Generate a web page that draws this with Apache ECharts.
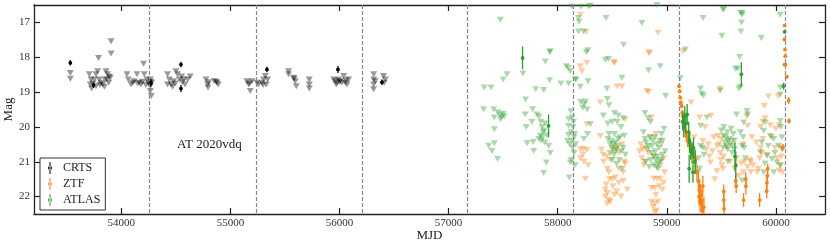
<!DOCTYPE html>
<html><head><meta charset="utf-8">
<script src="https://cdn.jsdelivr.net/npm/echarts@6/dist/echarts.min.js"></script>
<style>html,body{margin:0;padding:0;background:#fff}#c{width:830px;height:248px}</style>
</head><body><div id="c"></div>
<script>
// ---- data: [MJD, mag] (limits) and [MJD, mag, err] (detections) ----
const xTicks = [54000, 55000, 56000, 57000, 58000, 59000, 60000];
const yTicks = [17, 18, 19, 20, 21, 22];
const periodLines = [54259, 55235, 56206, 57174, 58143, 59114, 60086];

const crtsDet = [[53533,18.16,0.08],[53746,18.80,0.08],[54547,18.21,0.08],[54547,18.90,0.1],[55335,18.35,0.08],[55986,18.35,0.1],[56389,18.72,0.08],[54272,18.74,0.1]];
const crtsLim = [
[53533,18.45],[53533,18.62],
[53707,18.49],[53722,18.64],[53715,18.78],[53728,18.90],[53753,18.64],[53768,18.49],[53783,18.40],[53798,18.64],[53814,18.73],[53830,18.78],[53851,18.64],[53860,18.40],[53874,18.49],[53870,18.64],[53885,18.73],[53899,18.59],[53792,18.02],[53906,17.54],[53906,17.89],[53768,18.83],[53845,18.85],[53740,18.75],[53805,18.80],[53890,18.55],
[54052,18.49],[54064,18.64],[54089,18.78],[54104,18.73],[54119,18.69],[54144,18.49],[54165,18.73],[54181,18.78],[54204,18.19],[54211,18.49],[54236,18.64],[54248,18.73],[54266,18.64],[54266,18.83],[54266,18.97],[54275,19.11],[54278,18.73],[54150,18.75],[54195,18.70],[54225,18.80],[54258,18.78],[54270,18.70],
[54424,18.49],[54440,18.64],[54456,18.78],[54479,18.69],[54502,18.40],[54516,18.49],[54532,18.64],[54553,18.55],[54571,18.64],[54584,18.78],[54608,18.64],[54632,18.55],[54470,18.85],[54424,18.78],[54495,18.75],[54560,18.72],
[54776,18.64],[54791,18.78],[54795,18.87],[54852,18.69],[54877,18.73],[54889,18.78],[54800,18.72],[54870,18.70],
[55152,18.69],[55167,18.78],[55182,18.97],[55198,18.69],[55244,18.73],[55259,18.78],[55290,18.73],[55304,18.64],[55320,18.54],[55329,18.78],[55341,18.64],[55300,18.80],[55175,18.75],
[55533,18.40],[55533,18.49],[55579,18.59],[55595,18.69],[55604,18.83],[55723,18.64],[55723,18.78],[55723,18.90],[55585,18.62],
[55946,18.64],[55962,18.69],[55977,18.73],[55992,18.64],[56007,18.69],[56038,18.54],[56053,18.73],[56069,18.78],[56084,18.64],[55970,18.78],[56023,18.73],[56000,18.70],[56060,18.66],
[56313,18.49],[56313,18.64],[56313,18.78],[56313,18.92],[56328,18.69],[56404,18.54],[56420,18.64],[56410,18.73]];

const ztfDet = [
[59112,18.83,0.05],[59118,18.98,0.05],[59124,19.16,0.06],[59130,19.30,0.06],[59136,19.40,0.07],[59142,19.59,0.08],[59148,19.69,0.1],[59154,19.87,0.12],[59160,19.97,0.1],[59170,20.11,0.15],[59178,20.26,0.15],[59191,20.40,0.18],[59209,20.54,0.2],[59231,20.69,0.2],[59246,20.83,0.2],[59261,20.92,0.25],[59276,21.30,0.25],[59290,21.56,0.3],[59300,21.80,0.3],[59310,21.95,0.3],[59320,22.10,0.3],[59305,22.15,0.3],[59330,21.70,0.3],[59340,22.30,0.3],[59295,22.00,0.25],[59325,22.40,0.3],
[59522,21.85,0.2],[59522,22.10,0.2],[59525,22.35,0.2],[59632,21.55,0.2],[59636,21.70,0.2],[59704,22.10,0.2],[59723,21.50,0.2],[59725,21.70,0.25],[59851,22.10,0.2],[59915,21.85,0.2],[59918,21.60,0.25],[59922,21.40,0.2],[59925,21.20,0.15],[60064,20.59,0.1],
[60080,17.09,0.03],[60078,17.49,0.03],[60083,17.78,0.03],[60086,17.97,0.03],[60088,18.21,0.03],[60078,18.21,0.03],[60100,18.56,0.05],[60117,19.24,0.1],[60120,19.83,0.08]];
const ztfLim = [
[58207,16.78],[58259,17.27],[58268,18.16],[58207,18.26],[58222,18.40],[58268,19.92],[58207,20.64],[58237,20.64],[58268,20.66],[58210,20.90],[58240,21.00],[58280,21.10],[58253,21.49],[58230,20.80],
[58522,18.16],[58514,18.14],[58543,18.84],[58589,18.84],[58390,19.30],[58620,19.78],[58390,20.26],[58418,20.80],[58450,20.85],[58482,20.95],[58455,21.20],[58470,21.30],[58475,21.50],[58500,21.50],[58436,21.80],[58455,21.90],[58482,22.15],[58436,22.00],[58455,22.20],[58528,21.45],[58560,21.60],[58600,21.55],[58638,21.80],[58530,20.60],[58560,20.75],[58590,20.50],[58610,21.00],[58500,20.65],[58400,20.65],[58420,21.00],[58560,21.20],[58600,21.30],[58620,21.05],[58540,21.85],[58580,22.00],[58470,22.10],
[58505,21.70],[58520,21.95],[58445,21.65],
[58919,17.30],[58833,17.87],[58843,17.87],[58833,19.00],[58818,18.97],[58858,19.73],[58780,20.64],[58800,20.60],[58830,20.75],[58810,21.00],[58880,21.49],[58910,21.49],[58940,21.49],[58860,21.75],[58890,21.75],[58860,22.15],[58890,22.20],[58920,22.15],[58905,22.40],[58890,22.45],[58950,20.50],[58970,20.90],[58980,21.30],[58960,21.80],[58930,21.70],[58850,20.30],[58900,20.20],[58880,20.85],[58940,21.10],[58970,21.60],
[58750,20.70],[58770,20.90],[58790,21.10],[58760,20.50],[58900,21.95],[58875,22.30],
[59148,17.83],[59489,18.97],[59222,19.30],[59405,19.68],[59301,19.73],[59470,20.26],[59500,20.35],[59460,20.55],[59490,20.75],[59520,20.85],[59505,21.10],[59460,21.27],[59400,21.02],[59640,20.90],[59680,21.05],[59700,21.30],[59250,20.30],[59350,20.00],[59380,20.50],[59420,20.70],[59550,20.60],[59600,20.40],[59620,21.20],[59660,21.40],[59580,21.00],[59700,20.50],[59430,20.30],[59440,21.50],
[59480,20.50],[59495,20.95],[59515,21.20],[59330,20.40],[59360,20.65],[59390,20.85],
[59931,19.13],[60022,19.11],[59894,19.40],[59732,19.70],[59741,19.97],[59900,19.75],[59880,19.85],[59950,19.95],[59860,20.00],[60000,20.05],[60030,19.95],[59960,20.30],[59880,20.35],[59860,20.60],[59870,20.75],[59920,20.80],[59990,20.60],[60050,20.60],[60010,20.90],[60040,21.10],[60060,21.30],[59770,21.00],[59790,21.10],[59830,21.30],[59770,21.30],[59820,20.45],[59780,20.30],
[59710,21.00],[59740,21.15],[59760,20.95],[59840,21.20],[59850,20.90],[60050,20.85],[60030,21.25]];

const atlasDet = [[57678,18.02,0.33],[57916,19.97,0.33],
[59145,19.85,0.25],[59155,20.00,0.3],[59165,19.70,0.3],[59175,19.90,0.3],[59187,19.64,0.3],[59200,20.15,0.3],[59210,20.45,0.3],[59218,20.64,0.3],[59232,20.75,0.3],[59245,20.60,0.3],[59260,21.00,0.35],[59205,21.20,0.4],[59240,21.30,0.3],
[59683,18.49,0.35],[59625,20.85,0.4],[59632,21.10,0.4],[60080,17.27,0.05],[60070,18.83,0.1]];
const atlasLim = [
[57474,16.92],[57926,17.86],[57886,18.12],[57535,18.49],[57499,18.64],[57682,18.47],[57327,18.87],[57389,18.87],[57926,18.66],[57798,18.92],[57871,18.94],[57706,19.21],[57321,19.49],[57413,19.49],[57450,19.58],[57470,19.65],[57485,19.72],[57500,19.62],[57510,19.70],[57475,19.78],[57419,19.73],[57419,20.07],[57367,20.54],[57419,20.47],[57398,20.69],[57449,20.92],[57703,19.64],[57770,19.49],[57810,19.64],[57712,20.00],[57764,19.86],[57719,20.47],[57780,20.69],[57774,20.43],[57826,20.35],[57830,19.70],[57845,19.85],[57855,20.00],[57865,20.15],[57840,20.25],[57860,20.30],[57875,20.10],[57885,19.90],[57850,20.40],[57880,20.45],[57901,20.24],[57916,20.54],[57932,20.75],[57896,21.02],[57871,21.32],
[57932,17.83],[58079,18.26],[58115,18.40],[58030,18.75],[58100,18.75],[58161,18.64],[58131,16.54],[58190,16.87],[58195,16.98],[58190,17.26],[58236,17.26],[58262,17.86],[58275,17.80],[58097,18.30],[58168,18.64],[58207,18.85],[58278,18.69],[58210,19.28],[58240,19.35],[58255,19.28],[58230,19.45],[58270,19.50],[58131,19.73],[58100,19.97],[58299,19.92],[58273,20.20],[58240,20.35],[58165,20.50],[58100,20.23],[58115,21.02],[58106,21.45],[58140,20.00],[58150,20.30],[58135,20.60],[58145,19.85],[58155,20.20],[58125,20.95],[58160,21.10],[58283,16.54],[58215,16.55],[58300,16.52],[58120,19.55],[58100,19.78],[58090,20.40],[58110,20.50],
[58130,20.40],[58150,20.75],[58120,20.15],
[58443,16.87],[58436,18.07],[58466,18.05],[58604,17.64],[58589,18.59],[58452,18.90],[58455,19.20],[58470,19.38],[58418,19.67],[58555,19.67],[58520,19.60],[58460,19.90],[58500,19.85],[58545,19.85],[58600,19.75],[58460,20.35],[58480,20.50],[58500,20.60],[58515,20.80],[58530,20.45],[58550,20.55],[58565,20.95],[58540,21.06],[58590,21.20],[58500,20.95],[58570,20.30],[58600,20.60],[58620,20.80],[58520,20.20],[58580,20.00],[58610,20.25],[58480,20.75],[58540,20.65],
[58470,20.20],[58490,20.40],[58510,20.50],[58525,20.70],[58555,20.35],[58585,20.70],
[58772,17.02],[58833,18.37],[58940,18.26],[58800,19.60],[58830,19.75],[58850,19.86],[58785,20.15],[58800,20.35],[58830,20.55],[58860,20.75],[58880,20.85],[58900,20.95],[58920,21.05],[58850,20.95],[58880,21.10],[58920,21.20],[58800,21.00],[58950,20.20],[58990,19.11],[58930,20.60],[58960,20.80],[58940,21.00],[58870,20.40],[58910,20.50],[58840,21.15],[58960,20.40],[58975,20.05],[58985,20.70],[58910,16.50],
[58810,20.45],[58825,20.65],[58845,20.30],[58865,20.55],[58895,20.70],[58915,20.85],[58935,20.40],[58890,20.30],[58950,20.95],[58905,21.15],
[59170,17.78],[59124,18.60],[59332,16.87],[59515,16.62],[59522,16.62],[59675,16.72],[59690,16.78],[59685,17.00],[59680,17.26],[59505,17.38],[59667,17.99],[59630,18.33],[59650,18.33],[59660,18.90],[59675,18.85],[59309,18.90],[59320,19.05],[59336,19.10],[59489,18.92],[59640,19.64],[59740,19.64],[59368,19.73],[59309,19.97],[59523,20.00],[59540,20.30],[59560,20.40],[59545,20.55],[59560,20.65],[59580,20.50],[59600,20.75],[59309,20.55],[59330,20.60],[59290,20.90],[59300,21.20],[59280,21.30],[59675,20.15],[59700,20.30],[59690,20.55],[59710,20.60],[59720,20.90],[59610,20.20],[59590,20.05],[59620,20.40],[59560,21.00],[59340,20.80],
[59500,20.10],[59520,20.25],[59535,20.45],[59555,20.15],[59575,20.35],[59600,20.55],[59620,20.65],[59515,20.60],
[59691,16.73],[60040,16.78],[59866,17.45],[60040,18.87],[60040,19.07],[59735,19.54],[59903,19.87],[60040,19.83],[59704,19.87],[59888,20.11],[59949,20.26],[59980,20.35],[60025,20.54],[60056,20.64],[59857,20.73],[59918,20.83],[59964,20.92],[60010,21.02],[60040,21.11],[59888,21.30],[59980,21.30],[59690,21.54],
[59870,20.45],[59930,20.55],[59990,20.75],[60055,20.30],[60045,20.00],[59900,21.05]];

// ---- chart ----
const FONT = 'Liberation Serif';
const chart = echarts.init(document.getElementById('c'), null, {renderer: 'canvas'});

function limSeries(name, data, color) {
  return {type: 'scatter', name, data, symbol: 'triangle', symbolRotate: 180, symbolSize: [7, 6],
    itemStyle: {color, opacity: 0.4}, clip: true, silent: true, z: 2};
}
function detSeries(name, data, color) {
  return {type: 'custom', name, data, clip: true, silent: true, z: 5,
    itemStyle: {color},
    encode: {x: 0, y: 1},
    renderItem(params, api) {
      const x = api.value(0), y = api.value(1), e = api.value(2);
      const p = api.coord([x, y]), a = api.coord([x, y - e]), b = api.coord([x, y + e]);
      return {type: 'group', children: [
        {type: 'line', shape: {x1: a[0], y1: a[1], x2: b[0], y2: b[1]}, style: {stroke: color, lineWidth: 1.3}},
        {type: 'circle', shape: {cx: p[0], cy: p[1], r: 1.9}, style: {fill: color}}
      ]};
    }};
}
const frame = {lineStyle: {color: '#222', width: 1.3}};
const tick = (vals) => ({show: true, inside: true, length: 6, customValues: vals, lineStyle: {color: '#222', width: 1.2}});
const errIcon = 'path://M9,0h2v24h-2zM10,8a4,4 0 1,0 0.01,0z';

chart.setOption({
  animation: false,
  grid: {left: 34, right: 5, top: 5, bottom: 34, containLabel: false, outerBoundsMode: 'none'},
  xAxis: [
    {type: 'value', min: 53200, max: 60450, position: 'bottom', axisLine: frame, axisTick: tick(xTicks),
     splitLine: {show: false}, name: 'MJD', nameLocation: 'middle', nameGap: 15, nameMoveOverlap: false,
     nameTextStyle: {fontFamily: FONT, fontSize: 13, color: '#222'},
     axisLabel: {customValues: xTicks, formatter: v => String(v), fontFamily: FONT, fontSize: 11, color: '#333', margin: 4}},
    {type: 'value', min: 53200, max: 60450, position: 'top', axisLine: frame, axisTick: tick(xTicks),
     splitLine: {show: false}, axisLabel: {show: false}}
  ],
  yAxis: [
    {type: 'value', inverse: true, min: 16.5, max: 22.5, position: 'left', axisLine: frame, axisTick: tick(yTicks),
     splitLine: {show: false}, name: 'Mag', nameLocation: 'middle', nameGap: 19, nameMoveOverlap: false,
     nameTextStyle: {fontFamily: FONT, fontSize: 13, color: '#222'},
     axisLabel: {customValues: yTicks, formatter: v => String(v), fontFamily: FONT, fontSize: 11, color: '#333', margin: 4}},
    {type: 'value', inverse: true, min: 16.5, max: 22.5, position: 'right', axisLine: frame, axisTick: tick(yTicks),
     splitLine: {show: false}, axisLabel: {show: false}}
  ],
  legend: {data: ['CRTS', 'ZTF', 'ATLAS'], orient: 'vertical', left: 40, top: 158,
    padding: [4, 5, 4, 8], itemWidth: 16, itemHeight: 12, itemGap: 4, icon: errIcon,
    borderColor: '#333', borderWidth: 1, backgroundColor: '#fff',
    textStyle: {fontFamily: FONT, fontSize: 12, color: '#222', lineHeight: 12}},
  graphic: [{type: 'text', left: 177, top: 138, style: {text: 'AT 2020vdq', font: '13px "Liberation Serif"', fill: '#222'}}],
  series: [
    {type: 'scatter', name: 'lines', data: [], silent: true,
     markLine: {silent: true, symbol: ['none', 'none'], label: {show: false}, animation: false,
       lineStyle: {type: [4, 2], color: '#888', width: 1.2},
       data: periodLines.map(v => ({xAxis: v}))}},
    limSeries('CRTS lim', crtsLim, '#000'),
    limSeries('ZTF lim', ztfLim, '#ff7f0e'),
    limSeries('ATLAS lim', atlasLim, '#2ca02c'),
    detSeries('CRTS', crtsDet, '#000'),
    detSeries('ZTF', ztfDet, '#ff7f0e'),
    detSeries('ATLAS', atlasDet, '#2ca02c')
  ]
});
</script></body></html>
